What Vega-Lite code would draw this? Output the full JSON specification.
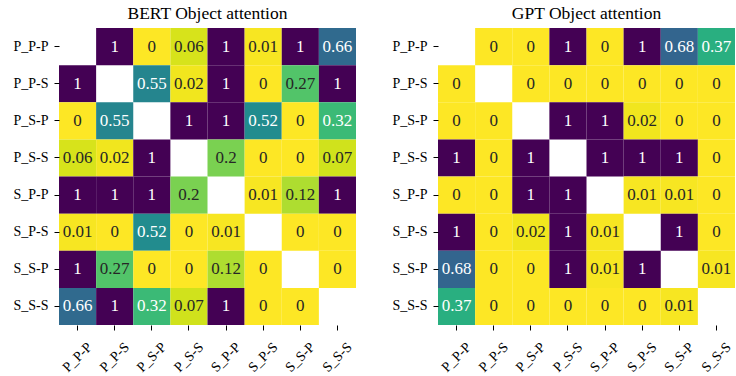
{
  "$schema": "https://vega.github.io/schema/vega-lite/v6.json",
  "padding": {"left": 12, "top": 4, "right": 0, "bottom": 0},
  "spacing": 35,
  "config": {
    "view": {"stroke": null},
    "font": "Liberation Serif",
    "axis": {"labelFont": "Liberation Serif", "labelFontSize": 14, "labelColor": "black", "domain": false, "tickColor": "black", "tickSize": 5, "tickWidth": 1, "grid": false},
    "text": {"font": "Liberation Serif"},
    "title": {"font": "Liberation Serif", "fontSize": 17.5, "fontWeight": "normal", "color": "black", "anchor": "middle", "offset": 6},
    "scale": {"bandPaddingInner": 0, "bandPaddingOuter": 0}
  },
  "data": {"values": [
    {"m":"BERT","r":"P_P-P","c":"P_P-S","v":1},{"m":"BERT","r":"P_P-P","c":"P_S-P","v":0},{"m":"BERT","r":"P_P-P","c":"P_S-S","v":0.06},{"m":"BERT","r":"P_P-P","c":"S_P-P","v":1},{"m":"BERT","r":"P_P-P","c":"S_P-S","v":0.01},{"m":"BERT","r":"P_P-P","c":"S_S-P","v":1},{"m":"BERT","r":"P_P-P","c":"S_S-S","v":0.66},
    {"m":"BERT","r":"P_P-S","c":"P_P-P","v":1},{"m":"BERT","r":"P_P-S","c":"P_S-P","v":0.55},{"m":"BERT","r":"P_P-S","c":"P_S-S","v":0.02},{"m":"BERT","r":"P_P-S","c":"S_P-P","v":1},{"m":"BERT","r":"P_P-S","c":"S_P-S","v":0},{"m":"BERT","r":"P_P-S","c":"S_S-P","v":0.27},{"m":"BERT","r":"P_P-S","c":"S_S-S","v":1},
    {"m":"BERT","r":"P_S-P","c":"P_P-P","v":0},{"m":"BERT","r":"P_S-P","c":"P_P-S","v":0.55},{"m":"BERT","r":"P_S-P","c":"P_S-S","v":1},{"m":"BERT","r":"P_S-P","c":"S_P-P","v":1},{"m":"BERT","r":"P_S-P","c":"S_P-S","v":0.52},{"m":"BERT","r":"P_S-P","c":"S_S-P","v":0},{"m":"BERT","r":"P_S-P","c":"S_S-S","v":0.32},
    {"m":"BERT","r":"P_S-S","c":"P_P-P","v":0.06},{"m":"BERT","r":"P_S-S","c":"P_P-S","v":0.02},{"m":"BERT","r":"P_S-S","c":"P_S-P","v":1},{"m":"BERT","r":"P_S-S","c":"S_P-P","v":0.2},{"m":"BERT","r":"P_S-S","c":"S_P-S","v":0},{"m":"BERT","r":"P_S-S","c":"S_S-P","v":0},{"m":"BERT","r":"P_S-S","c":"S_S-S","v":0.07},
    {"m":"BERT","r":"S_P-P","c":"P_P-P","v":1},{"m":"BERT","r":"S_P-P","c":"P_P-S","v":1},{"m":"BERT","r":"S_P-P","c":"P_S-P","v":1},{"m":"BERT","r":"S_P-P","c":"P_S-S","v":0.2},{"m":"BERT","r":"S_P-P","c":"S_P-S","v":0.01},{"m":"BERT","r":"S_P-P","c":"S_S-P","v":0.12},{"m":"BERT","r":"S_P-P","c":"S_S-S","v":1},
    {"m":"BERT","r":"S_P-S","c":"P_P-P","v":0.01},{"m":"BERT","r":"S_P-S","c":"P_P-S","v":0},{"m":"BERT","r":"S_P-S","c":"P_S-P","v":0.52},{"m":"BERT","r":"S_P-S","c":"P_S-S","v":0},{"m":"BERT","r":"S_P-S","c":"S_P-P","v":0.01},{"m":"BERT","r":"S_P-S","c":"S_S-P","v":0},{"m":"BERT","r":"S_P-S","c":"S_S-S","v":0},
    {"m":"BERT","r":"S_S-P","c":"P_P-P","v":1},{"m":"BERT","r":"S_S-P","c":"P_P-S","v":0.27},{"m":"BERT","r":"S_S-P","c":"P_S-P","v":0},{"m":"BERT","r":"S_S-P","c":"P_S-S","v":0},{"m":"BERT","r":"S_S-P","c":"S_P-P","v":0.12},{"m":"BERT","r":"S_S-P","c":"S_P-S","v":0},{"m":"BERT","r":"S_S-P","c":"S_S-S","v":0},
    {"m":"BERT","r":"S_S-S","c":"P_P-P","v":0.66},{"m":"BERT","r":"S_S-S","c":"P_P-S","v":1},{"m":"BERT","r":"S_S-S","c":"P_S-P","v":0.32},{"m":"BERT","r":"S_S-S","c":"P_S-S","v":0.07},{"m":"BERT","r":"S_S-S","c":"S_P-P","v":1},{"m":"BERT","r":"S_S-S","c":"S_P-S","v":0},{"m":"BERT","r":"S_S-S","c":"S_S-P","v":0},
    {"m":"GPT","r":"P_P-P","c":"P_P-S","v":0},{"m":"GPT","r":"P_P-P","c":"P_S-P","v":0},{"m":"GPT","r":"P_P-P","c":"P_S-S","v":1},{"m":"GPT","r":"P_P-P","c":"S_P-P","v":0},{"m":"GPT","r":"P_P-P","c":"S_P-S","v":1},{"m":"GPT","r":"P_P-P","c":"S_S-P","v":0.68},{"m":"GPT","r":"P_P-P","c":"S_S-S","v":0.37},
    {"m":"GPT","r":"P_P-S","c":"P_P-P","v":0},{"m":"GPT","r":"P_P-S","c":"P_S-P","v":0},{"m":"GPT","r":"P_P-S","c":"P_S-S","v":0},{"m":"GPT","r":"P_P-S","c":"S_P-P","v":0},{"m":"GPT","r":"P_P-S","c":"S_P-S","v":0},{"m":"GPT","r":"P_P-S","c":"S_S-P","v":0},{"m":"GPT","r":"P_P-S","c":"S_S-S","v":0},
    {"m":"GPT","r":"P_S-P","c":"P_P-P","v":0},{"m":"GPT","r":"P_S-P","c":"P_P-S","v":0},{"m":"GPT","r":"P_S-P","c":"P_S-S","v":1},{"m":"GPT","r":"P_S-P","c":"S_P-P","v":1},{"m":"GPT","r":"P_S-P","c":"S_P-S","v":0.02},{"m":"GPT","r":"P_S-P","c":"S_S-P","v":0},{"m":"GPT","r":"P_S-P","c":"S_S-S","v":0},
    {"m":"GPT","r":"P_S-S","c":"P_P-P","v":1},{"m":"GPT","r":"P_S-S","c":"P_P-S","v":0},{"m":"GPT","r":"P_S-S","c":"P_S-P","v":1},{"m":"GPT","r":"P_S-S","c":"S_P-P","v":1},{"m":"GPT","r":"P_S-S","c":"S_P-S","v":1},{"m":"GPT","r":"P_S-S","c":"S_S-P","v":1},{"m":"GPT","r":"P_S-S","c":"S_S-S","v":0},
    {"m":"GPT","r":"S_P-P","c":"P_P-P","v":0},{"m":"GPT","r":"S_P-P","c":"P_P-S","v":0},{"m":"GPT","r":"S_P-P","c":"P_S-P","v":1},{"m":"GPT","r":"S_P-P","c":"P_S-S","v":1},{"m":"GPT","r":"S_P-P","c":"S_P-S","v":0.01},{"m":"GPT","r":"S_P-P","c":"S_S-P","v":0.01},{"m":"GPT","r":"S_P-P","c":"S_S-S","v":0},
    {"m":"GPT","r":"S_P-S","c":"P_P-P","v":1},{"m":"GPT","r":"S_P-S","c":"P_P-S","v":0},{"m":"GPT","r":"S_P-S","c":"P_S-P","v":0.02},{"m":"GPT","r":"S_P-S","c":"P_S-S","v":1},{"m":"GPT","r":"S_P-S","c":"S_P-P","v":0.01},{"m":"GPT","r":"S_P-S","c":"S_S-P","v":1},{"m":"GPT","r":"S_P-S","c":"S_S-S","v":0},
    {"m":"GPT","r":"S_S-P","c":"P_P-P","v":0.68},{"m":"GPT","r":"S_S-P","c":"P_P-S","v":0},{"m":"GPT","r":"S_S-P","c":"P_S-P","v":0},{"m":"GPT","r":"S_S-P","c":"P_S-S","v":1},{"m":"GPT","r":"S_S-P","c":"S_P-P","v":0.01},{"m":"GPT","r":"S_S-P","c":"S_P-S","v":1},{"m":"GPT","r":"S_S-P","c":"S_S-S","v":0.01},
    {"m":"GPT","r":"S_S-S","c":"P_P-P","v":0.37},{"m":"GPT","r":"S_S-S","c":"P_P-S","v":0},{"m":"GPT","r":"S_S-S","c":"P_S-P","v":0},{"m":"GPT","r":"S_S-S","c":"P_S-S","v":0},{"m":"GPT","r":"S_S-S","c":"S_P-P","v":0},{"m":"GPT","r":"S_S-S","c":"S_P-S","v":0},{"m":"GPT","r":"S_S-S","c":"S_S-P","v":0.01}
  ]},
  "hconcat": [
    {
      "title": "BERT Object attention",
      "width": 297, "height": 297,
      "transform": [{"filter": "datum.m === 'BERT'"}],
      "encoding": {
        "x": {"field": "c", "type": "nominal", "title": null, "scale": {"domain": ["P_P-P","P_P-S","P_S-P","P_S-S","S_P-P","S_P-S","S_S-P","S_S-S"]}, "axis": {"labelAngle": -45, "labelAlign": "center", "labelBaseline": "middle", "labelPadding": 27}},
        "y": {"field": "r", "type": "nominal", "title": null, "scale": {"domain": ["P_P-P","P_P-S","P_S-P","P_S-S","S_P-P","S_P-S","S_S-P","S_S-S"]}, "axis": {"labelPadding": 6}}
      },
      "layer": [
        {"mark": {"type": "rect"}, "encoding": {"color": {"field": "v", "type": "quantitative", "scale": {"scheme": "viridis", "reverse": true, "domain": [0, 1]}, "legend": null}}},
        {"mark": {"type": "text", "font": "Liberation Serif", "fontSize": 17}, "encoding": {"text": {"field": "v", "type": "quantitative", "format": "~g"}, "color": {"condition": {"test": "datum.v >= 0.3", "value": "white"}, "value": "#262626"}}}
      ]
    },
    {
      "title": "GPT Object attention",
      "width": 297, "height": 297,
      "transform": [{"filter": "datum.m === 'GPT'"}],
      "encoding": {
        "x": {"field": "c", "type": "nominal", "title": null, "scale": {"domain": ["P_P-P","P_P-S","P_S-P","P_S-S","S_P-P","S_P-S","S_S-P","S_S-S"]}, "axis": {"labelAngle": -45, "labelAlign": "center", "labelBaseline": "middle", "labelPadding": 27}},
        "y": {"field": "r", "type": "nominal", "title": null, "scale": {"domain": ["P_P-P","P_P-S","P_S-P","P_S-S","S_P-P","S_P-S","S_S-P","S_S-S"]}, "axis": {"labelPadding": 6}}
      },
      "layer": [
        {"mark": {"type": "rect"}, "encoding": {"color": {"field": "v", "type": "quantitative", "scale": {"scheme": "viridis", "reverse": true, "domain": [0, 1]}, "legend": null}}},
        {"mark": {"type": "text", "font": "Liberation Serif", "fontSize": 17}, "encoding": {"text": {"field": "v", "type": "quantitative", "format": "~g"}, "color": {"condition": {"test": "datum.v >= 0.3", "value": "white"}, "value": "#262626"}}}
      ]
    }
  ]
}
